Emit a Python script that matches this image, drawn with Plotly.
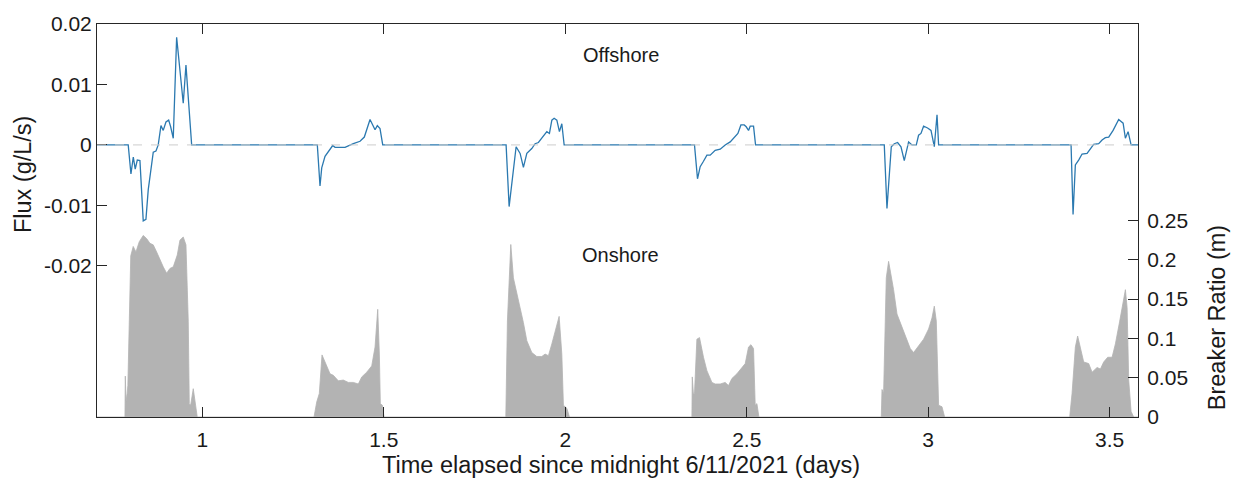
import plotly.graph_objects as go

# Sediment flux (g/L/s) against time elapsed (days)
flux_t = [
    0.71, 0.796, 0.8035, 0.81, 0.8153, 0.821, 0.8283, 0.8374, 0.8448, 0.8512, 0.865,
    0.8724, 0.8787, 0.8862, 0.8925, 0.9, 0.9074, 0.9129, 0.9201, 0.9294, 0.9476, 0.9551, 0.9708,
    1.317, 1.3244, 1.3291, 1.3382, 1.3520, 1.3594, 1.3658, 1.3934, 1.4162, 1.4347, 1.4465,
    1.4531, 1.4622, 1.4760, 1.4823, 1.4897, 1.4972,
    1.8371, 1.8454, 1.8647, 1.8757, 1.8848, 1.8942, 1.9079, 1.9170, 1.9261, 1.9399, 1.9493,
    1.9565, 1.9631, 1.9694, 1.9769, 1.9840, 1.9906, 1.997,
    2.3561, 2.3644, 2.3718, 2.3809, 2.3903, 2.3994, 2.4131, 2.4270, 2.4407, 2.4545, 2.4683,
    2.4757, 2.4840, 2.4931, 2.4986, 2.5050, 2.5096, 2.5188, 2.5243,
    2.879, 2.8864, 2.8983, 2.9066, 2.9157, 2.9250, 2.9341, 2.9460, 2.9553, 2.9672, 2.9735,
    2.9801, 2.9873, 2.9983, 3.0077, 3.0168, 3.0243, 3.0287,
    3.3936, 3.3991, 3.4054, 3.4145, 3.4239, 3.4377, 3.4468, 3.4559, 3.4697, 3.4790, 3.4881,
    3.4973, 3.5094, 3.5248, 3.5370, 3.5433, 3.5507, 3.5590, 3.578,
]
flux_v = [
    0, 0, -0.0048, -0.0020, -0.0040, -0.0025, -0.0026, -0.01255, -0.0123, -0.0074, -0.0012,
    -0.0010, 0.0, 0.0032, 0.0024, 0.0038, 0.0041, 0.0030, 0.0011, 0.0178, 0.0069, 0.0132, 0.0,
    0, -0.0068, -0.0038, -0.0019, -0.0006, -0.0001, -0.0004, -0.0004, 0.0002, 0.0006, 0.0013,
    0.0027, 0.0042, 0.0025, 0.0032, 0.0027, 0,
    0, -0.0102, -0.0003, -0.0014, -0.0037, -0.0014, -0.0006, 0.0002, 0.0004, 0.0016, 0.0022,
    0.0019, 0.0041, 0.0044, 0.0041, 0.0022, 0.0035, 0,
    0, -0.0056, -0.0036, -0.0027, -0.0017, -0.0017, -0.0009, -0.0007, 0.0, 0.0005, 0.0013,
    0.0019, 0.0033, 0.0033, 0.0030, 0.0024, 0.0031, 0.0031, 0,
    0, -0.0105, -0.0003, 0.0002, 0.0004, -0.0003, -0.0026, 0.0005, 0.0, 0.0, 0.0016,
    0.0019, 0.0031, 0.0028, 0.0024, -0.0003, 0.0050, 0,
    0, -0.0115, -0.0033, -0.0025, -0.0015, -0.0014, -0.0006, 0.0001, 0.0002, 0.0008, 0.0012,
    0.0013, 0.0024, 0.0042, 0.0036, 0.0011, 0.0022, 0, 0,
]

# Breaker ratio (m) against time elapsed (days)
breaker_t = [
    0.71,
    0.7870, 0.7880, 0.7900, 0.7930, 0.7950, 0.8030, 0.8098, 0.8173, 0.8264, 0.8374, 0.8467,
    0.8558, 0.8649, 0.8743, 0.8834, 0.8925, 0.9018, 0.9110, 0.9201, 0.9311, 0.9385, 0.9476,
    0.9551, 0.9614, 0.9642, 0.9680, 0.9752, 0.9818, 0.9862,
    1.3079, 1.3153, 1.3225, 1.3299, 1.3382, 1.3520, 1.3611, 1.3749, 1.3886, 1.4024, 1.4162,
    1.4300, 1.4394, 1.4531, 1.4669, 1.4760, 1.4834, 1.4879, 1.4906, 1.4961, 1.5008,
    1.8363, 1.8407, 1.8500, 1.8572, 1.8666, 1.8757, 1.8848, 1.8942, 1.9079, 1.9217, 1.9355,
    1.9446, 1.9537, 1.9631, 1.9749, 1.9832, 1.9906, 1.9950, 2.0044, 2.0116,
    2.3490, 2.3500, 2.3530, 2.3561, 2.3627, 2.3699, 2.3809, 2.3903, 2.4041, 2.4131, 2.4270,
    2.4407, 2.4498, 2.4592, 2.4730, 2.4868, 2.4959, 2.5050, 2.5116, 2.5188, 2.5234, 2.5281, 2.5336,
    2.8707, 2.8727, 2.8771, 2.8845, 2.8909, 2.9046, 2.9140, 2.9278, 2.9416, 2.9507, 2.9598,
    2.9735, 2.9873, 3.0011, 3.0104, 3.0168, 3.0223, 3.0287, 3.0380, 3.0452,
    3.3898, 3.3963, 3.4054, 3.4118, 3.4193, 3.4284, 3.4421, 3.4515, 3.4653, 3.4744, 3.4835,
    3.4945, 3.5066, 3.5157, 3.5276, 3.5370, 3.5433, 3.5480, 3.5524, 3.5590, 3.5661, 3.578,
]
breaker_v = [
    0,
    0, 0.052, 0.020, 0.030, 0.040, 0.205, 0.217, 0.210, 0.223, 0.231, 0.227,
    0.221, 0.219, 0.210, 0.200, 0.191, 0.183, 0.189, 0.191, 0.206, 0.225, 0.229,
    0.219, 0.122, 0.017, 0.015, 0.036, 0.013, 0,
    0, 0.019, 0.030, 0.079, 0.070, 0.055, 0.053, 0.046, 0.047, 0.044, 0.044,
    0.042, 0.051, 0.057, 0.065, 0.089, 0.137, 0.080, 0.017, 0.015, 0,
    0, 0.122, 0.2195, 0.177, 0.158, 0.137, 0.120, 0.097, 0.082, 0.077, 0.077,
    0.080, 0.078, 0.093, 0.114, 0.128, 0.080, 0.015, 0.011, 0,
    0, 0.051, 0.030, 0.030, 0.099, 0.101, 0.076, 0.059, 0.044, 0.042, 0.042,
    0.044, 0.040, 0.049, 0.055, 0.063, 0.068, 0.089, 0.092, 0.087, 0.015, 0.017, 0,
    0, 0.035, 0.030, 0.177, 0.198, 0.162, 0.131, 0.114, 0.097, 0.087, 0.082,
    0.091, 0.099, 0.112, 0.126, 0.141, 0.122, 0.015, 0.013, 0,
    0, 0.030, 0.089, 0.103, 0.089, 0.070, 0.068, 0.057, 0.063, 0.061, 0.070,
    0.076, 0.076, 0.093, 0.122, 0.147, 0.162, 0.139, 0.047, 0.007, 0, 0,
]

x_ticks = [1, 1.5, 2, 2.5, 3, 3.5]
x_labels = ["1", "1.5", "2", "2.5", "3", "3.5"]
flux_ticks = [-0.02, -0.01, 0, 0.01, 0.02]
flux_labels = ["-0.02", "-0.01", "0", "0.01", "0.02"]
breaker_ticks = [0, 0.05, 0.1, 0.15, 0.2, 0.25]
breaker_labels = ["0", "0.05", "0.1", "0.15", "0.2", "0.25"]

FONT = "Liberation Sans, Arial, sans-serif"
AX = "#262626"
TXT = "#1a1a1a"
W, H = 1234, 488
ML, MR, MT, MB = 97, 96, 19, 71
PW, PH = W - ML - MR, H - MT - MB


def px(x):
    return (x - ML) / PW


def py(y):
    return (H - MB - y) / PH


fig = go.Figure()

fig.add_trace(go.Scatter(
    x=breaker_t, y=breaker_v, yaxis="y2", mode="lines",
    fill="tozeroy", fillcolor="#b3b3b3",
    line=dict(color="#b3b3b3", width=0.8),
    hoverinfo="skip", showlegend=False,
))

fig.add_trace(go.Scatter(
    x=flux_t, y=flux_v, yaxis="y", mode="lines",
    line=dict(color="#2b79b0", width=1.3),
    showlegend=False,
))

# dashed zero reference for the flux
fig.add_shape(
    type="line", xref="paper", x0=0, x1=1, yref="y", y0=0, y1=0,
    line=dict(color="#cccccc", width=1, dash="dash"), layer="above",
)

title_font = dict(size=23.5, family=FONT, color=TXT)
annotations = [
    dict(text="Offshore", x=px(621), y=py(50)),
    dict(text="Onshore", x=px(620), y=py(253)),
    dict(text="Time elapsed since midnight 6/11/2021 (days)", x=px(621), y=py(466),
         font=title_font),
    dict(text="Flux (g/L/s)", x=px(23), y=py(171), textangle=-90, font=title_font),
    dict(text="Breaker Ratio (m)", x=px(1217), y=py(317), textangle=-90, font=title_font),
]
for a in annotations:
    a.setdefault("font", dict(size=20, family=FONT, color=TXT))
    a.update(xref="paper", yref="paper", showarrow=False,
             xanchor="center", yanchor="middle")

axis_common = dict(
    ticks="inside", ticklen=10, tickcolor=AX, tickwidth=1,
    showline=True, linecolor=AX, linewidth=1,
    showgrid=False, zeroline=False,
    tickfont=dict(size=21, family=FONT, color=TXT),
)

fig.update_layout(
    width=W, height=H,
    margin=dict(l=ML, r=MR, t=MT, b=MB),
    paper_bgcolor="white", plot_bgcolor="white",
    font=dict(family=FONT, size=21, color=TXT),
    annotations=annotations,
    xaxis=dict(range=[0.71, 3.578], tickvals=x_ticks, ticktext=x_labels,
               mirror="ticks", ticklabelstandoff=4, **axis_common),
    yaxis=dict(range=[-0.045, 0.02], tickvals=flux_ticks, ticktext=flux_labels,
               **axis_common),
    yaxis2=dict(range=[0, 0.5], tickvals=breaker_ticks, ticktext=breaker_labels,
                overlaying="y", side="right", ticklabelstandoff=4, **axis_common),
)

fig.write_html("out.html")
